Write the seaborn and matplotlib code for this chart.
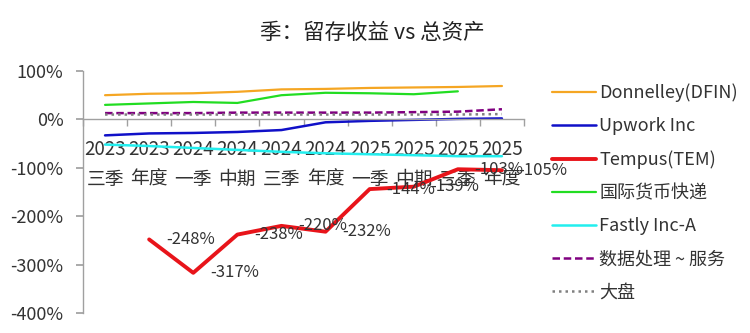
import numpy as np
import pandas as pd
import matplotlib
matplotlib.use("Agg")
import matplotlib.pyplot as plt
import seaborn as sns
from matplotlib.ticker import FixedLocator

sns.set_theme(style="white")
plt.rcParams['font.family'] = ['Noto Sans CJK SC', 'DejaVu Sans']
plt.rcParams['axes.unicode_minus'] = False

title = "季：留存收益 vs 总资产"
periods = ["2023\n三季", "2023\n年度", "2024\n一季", "2024\n中期", "2024\n三季",
           "2024\n年度", "2025\n一季", "2025\n中期", "2025\n三季", "2025\n年度"]

donnelley = [50, 53, 54, 57, 62, 63, 65, 66, 67, 69]
upwork = [-33, -29, -28, -26, -22, -6, -3, -1, 1, 2]
tempus = [np.nan, -248, -317, -238, -220, -232, -144, -139, -103, -105]
guoji = [30, 33, 36, 34, 50, 55, 54, 52, 58, np.nan]
fastly = [-52, -55, -59, -63, -67, -70, -72, -74, -76, -76]
shuju = [13, 13, 13, 14, 14, 14, 14, 15, 16, 21]
dapan = [10, 10, 10, 10, 10, 10, 10, 10, 10, 11]

series = [
    ("Donnelley(DFIN)", donnelley, "#F5A623", 1.6, "-"),
    ("Upwork Inc", upwork, "#1010C8", 1.8, "-"),
    ("Tempus(TEM)", tempus, "#E8141A", 2.8, "-"),
    ("国际货币快递", guoji, "#22DD22", 1.6, "-"),
    ("Fastly Inc-A", fastly, "#22EEEE", 1.8, "-"),
    ("数据处理 ~ 服务", shuju, "#800080", 1.8, (0, (3, 1.5))),
    ("大盘", dapan, "#808080", 1.8, (0, (1, 1.6))),
]

fig = plt.figure(figsize=(7.5, 3.33), dpi=100)
ax = fig.add_axes([83 / 750, 1 - 313 / 333, (524 - 83) / 750, (313 - 71) / 333])

x = np.arange(len(periods))
for name, vals, color, lw, ls in series:
    df = pd.DataFrame({"x": x, "y": vals}).dropna()
    sns.lineplot(data=df, x="x", y="y", ax=ax, color=color, linewidth=lw,
                 linestyle=ls, label=name)

# data labels for Tempus
text_color = "#333333"
for xi, v in zip(x, tempus):
    if np.isnan(v):
        continue
    ax.annotate(f"{v:.0f}%", (xi, v), xytext=(12, 0), textcoords="offset points",
                ha="left", va="center", fontsize=12, color=text_color)

ax.set_xlim(-0.5, len(periods) - 0.5)
ax.set_ylim(-400, 100)
ax.set_xlabel("")
ax.set_ylabel("")

ax.set_yticks([100, 0, -100, -200, -300, -400])
ax.set_yticklabels([f"{v}%" for v in [100, 0, -100, -200, -300, -400]])
ax.set_xticks(x)
ax.set_xticklabels(periods)
ax.xaxis.set_minor_locator(FixedLocator(np.arange(len(periods) + 1) - 0.5))

for side in ["top", "right"]:
    ax.spines[side].set_visible(False)
ax.spines["bottom"].set_position(("data", 0))
for side in ["left", "bottom"]:
    ax.spines[side].set_color("#A0A0A0")
    ax.spines[side].set_linewidth(1.0)

ax.tick_params(axis="y", which="major", length=5, color="#A0A0A0", direction="out",
               labelsize=13, labelcolor=text_color, pad=9, left=True)
ax.tick_params(axis="x", which="major", length=0, labelsize=13.5, labelcolor=text_color, pad=14)
ax.tick_params(axis="x", which="minor", length=5, color="#A0A0A0", direction="out", bottom=True)
for t in ax.get_xticklabels():
    t.set_linespacing(1.55)

leg = ax.legend(loc="upper left", bbox_to_anchor=(536 / 750, 1 - 67 / 333),
                bbox_transform=fig.transFigure, frameon=False, fontsize=13,
                handlelength=2.4, handletextpad=0.2, labelspacing=0.84,
                labelcolor=text_color)

fig.text(0.497, 1 - 33 / 333, title, ha="center", va="center", fontsize=15.5, color="#222222")

fig.savefig("out.png", dpi=100)
